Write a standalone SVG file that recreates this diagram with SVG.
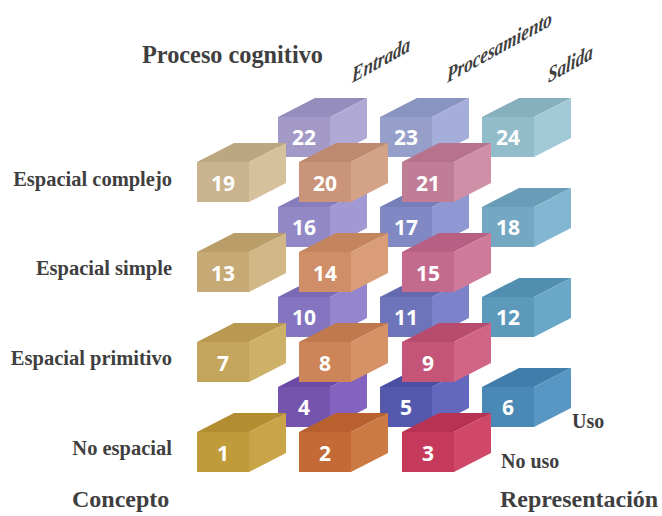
<svg xmlns="http://www.w3.org/2000/svg" width="662" height="516" viewBox="0 0 662 516">
<style>
.lbl{font-family:"Liberation Serif","Times New Roman",serif;font-weight:bold;fill:#3f3f3f}
.ax{font-family:"Liberation Serif","Times New Roman",serif;font-weight:bold;font-style:italic;font-size:22px;fill:#3f3f3f}
.num{font-family:"Open Sans","DejaVu Sans",sans-serif;font-weight:bold;font-size:21px;fill:#ffffff;text-anchor:middle}
</style>
<rect width="662" height="516" fill="#ffffff"/>

<text class="lbl" x="142" y="63" font-size="25" textLength="181" lengthAdjust="spacingAndGlyphs">Proceso cognitivo</text>
<text class="ax" transform="translate(352,83) skewY(-29) scale(0.78,1)">Entrada</text>
<text class="ax" transform="translate(447,83) skewY(-29) scale(0.78,1)">Procesamiento</text>
<text class="ax" transform="translate(548,83) skewY(-29) scale(0.78,1)">Salida</text>

<text class="lbl" x="172" y="186" font-size="20.5" text-anchor="end">Espacial complejo</text>
<text class="lbl" x="172" y="275" font-size="20.5" text-anchor="end">Espacial simple</text>
<text class="lbl" x="172" y="365" font-size="20.5" text-anchor="end">Espacial primitivo</text>
<text class="lbl" x="172" y="455" font-size="20.5" text-anchor="end">No espacial</text>
<text class="lbl" x="572" y="428" font-size="20">Uso</text>
<text class="lbl" x="501" y="468" font-size="20">No uso</text>
<text class="lbl" x="72" y="507" font-size="24">Concepto</text>
<text class="lbl" x="500" y="507" font-size="24">Representación</text>

<defs>
<path id="top" d="M0,0 L52,0 L89,-19 L37,-19 Z"/>
<path id="side" d="M52,0 L89,-19 L89,21 L52,40 Z"/>
<rect id="front" x="0" y="0" width="52" height="40"/>
</defs>

<g id="back-cubes">
<g id="cube-22" transform="translate(278,117)"><use href="#top" fill="#958dbc"/><use href="#side" fill="#b0a9d6"/><use href="#front" fill="#a299c6"/><text class="num" x="26" y="28">22</text></g>
<g id="cube-23" transform="translate(380,117)"><use href="#top" fill="#8a94c0"/><use href="#side" fill="#a5addb"/><use href="#front" fill="#969fca"/><text class="num" x="26" y="28">23</text></g>
<g id="cube-24" transform="translate(482,117)"><use href="#top" fill="#87b0bf"/><use href="#side" fill="#a2c9d8"/><use href="#front" fill="#93bccb"/><text class="num" x="26" y="28">24</text></g>

<g id="cube-16" transform="translate(278,207)"><use href="#top" fill="#877dbd"/><use href="#side" fill="#a198d4"/><use href="#front" fill="#9288c6"/><text class="num" x="26" y="28">16</text></g>
<g id="cube-17" transform="translate(380,207)"><use href="#top" fill="#757eb9"/><use href="#side" fill="#8f98d3"/><use href="#front" fill="#8089c3"/><text class="num" x="26" y="28">17</text></g>
<g id="cube-18" transform="translate(482,207)"><use href="#top" fill="#699cb6"/><use href="#side" fill="#83b6d1"/><use href="#front" fill="#74a8c2"/><text class="num" x="26" y="28">18</text></g>

<g id="cube-10" transform="translate(278,297)"><use href="#top" fill="#7a6ab6"/><use href="#side" fill="#9585cf"/><use href="#front" fill="#8575c0"/><text class="num" x="26" y="28">10</text></g>
<g id="cube-11" transform="translate(380,297)"><use href="#top" fill="#6469b0"/><use href="#side" fill="#7c83ca"/><use href="#front" fill="#6e74ba"/><text class="num" x="26" y="28">11</text></g>
<g id="cube-12" transform="translate(482,297)"><use href="#top" fill="#528eb0"/><use href="#side" fill="#6aa7c8"/><use href="#front" fill="#5c99bb"/><text class="num" x="26" y="28">12</text></g>

<g id="cube-4" transform="translate(278,387)"><use href="#top" fill="#6a4aa4"/><use href="#side" fill="#8462bf"/><use href="#front" fill="#7554ad"/><text class="num" x="26" y="28">4</text></g>
<g id="cube-5" transform="translate(380,387)"><use href="#top" fill="#4b4fa3"/><use href="#side" fill="#6367be"/><use href="#front" fill="#5559ad"/><text class="num" x="26" y="28">5</text></g>
<g id="cube-6" transform="translate(482,387)"><use href="#top" fill="#417dab"/><use href="#side" fill="#5896c4"/><use href="#front" fill="#4a88b6"/><text class="num" x="26" y="28">6</text></g>
</g>

<g id="front-cubes">
<g id="cube-19" transform="translate(197,162)"><use href="#top" fill="#bca880"/><use href="#side" fill="#d5c29d"/><use href="#front" fill="#c9b48f"/><text class="num" x="26" y="29">19</text></g>
<g id="cube-20" transform="translate(299,162)"><use href="#top" fill="#be8a6f"/><use href="#side" fill="#d4a287"/><use href="#front" fill="#c99479"/><text class="num" x="26" y="29">20</text></g>
<g id="cube-21" transform="translate(402,162)"><use href="#top" fill="#b6738b"/><use href="#side" fill="#cf8fa6"/><use href="#front" fill="#c07e96"/><text class="num" x="26" y="29">21</text></g>

<g id="cube-13" transform="translate(197,252)"><use href="#top" fill="#b99e6a"/><use href="#side" fill="#d0b785"/><use href="#front" fill="#c6aa75"/><text class="num" x="26" y="29">13</text></g>
<g id="cube-14" transform="translate(299,252)"><use href="#top" fill="#c4845e"/><use href="#side" fill="#d99d77"/><use href="#front" fill="#cf8e67"/><text class="num" x="26" y="29">14</text></g>
<g id="cube-15" transform="translate(402,252)"><use href="#top" fill="#b86083"/><use href="#side" fill="#d07a99"/><use href="#front" fill="#c46a8c"/><text class="num" x="26" y="29">15</text></g>

<g id="cube-7" transform="translate(197,342)"><use href="#top" fill="#b8994f"/><use href="#side" fill="#cdb168"/><use href="#front" fill="#c4a55c"/><text class="num" x="26" y="29">7</text></g>
<g id="cube-8" transform="translate(299,342)"><use href="#top" fill="#c0794f"/><use href="#side" fill="#d69266"/><use href="#front" fill="#cc8458"/><text class="num" x="26" y="29">8</text></g>
<g id="cube-9" transform="translate(402,342)"><use href="#top" fill="#b84c6f"/><use href="#side" fill="#d06586"/><use href="#front" fill="#c45578"/><text class="num" x="26" y="29">9</text></g>

<g id="cube-1" transform="translate(197,432)"><use href="#top" fill="#b28e30"/><use href="#side" fill="#c9a548"/><use href="#front" fill="#c09b3a"/><text class="num" x="26" y="29">1</text></g>
<g id="cube-2" transform="translate(299,432)"><use href="#top" fill="#b8602e"/><use href="#side" fill="#cc7a44"/><use href="#front" fill="#c46a36"/><text class="num" x="26" y="29">2</text></g>
<g id="cube-3" transform="translate(402,432)"><use href="#top" fill="#b83253"/><use href="#side" fill="#cf4867"/><use href="#front" fill="#c53a5a"/><text class="num" x="26" y="29">3</text></g>
</g>

<g id="connectors"></g>
</svg>
